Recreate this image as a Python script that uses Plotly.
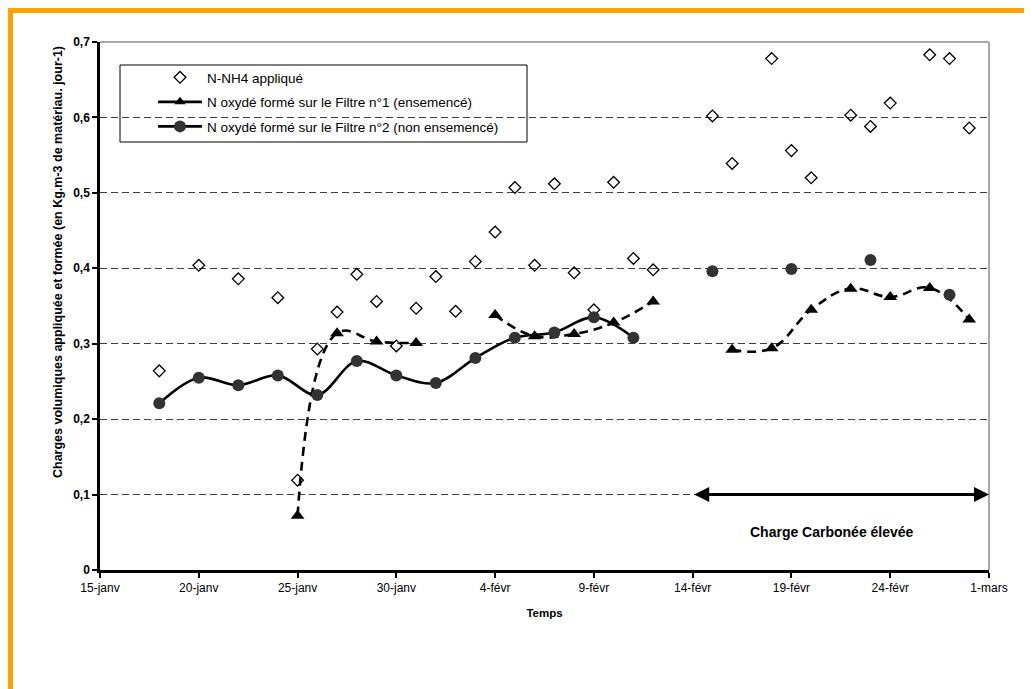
import plotly.graph_objects as go

YEAR = "2007"

# --- Data -------------------------------------------------------------
nh4_dates = ["01-18", "01-20", "01-22", "01-24", "01-25", "01-26", "01-27", "01-28",
             "01-29", "01-30", "01-31", "02-01", "02-02", "02-03", "02-04", "02-05",
             "02-06", "02-07", "02-08", "02-09", "02-10", "02-11", "02-12", "02-15",
             "02-16", "02-18", "02-19", "02-20", "02-22", "02-23", "02-24", "02-26",
             "02-27", "02-28"]
nh4_values = [0.264, 0.404, 0.386, 0.361, 0.119, 0.293, 0.342, 0.392,
              0.356, 0.297, 0.347, 0.389, 0.343, 0.409, 0.448, 0.507,
              0.404, 0.512, 0.394, 0.345, 0.514, 0.413, 0.398, 0.602,
              0.539, 0.678, 0.556, 0.520, 0.603, 0.588, 0.619, 0.683,
              0.678, 0.586]

f1_dates = ["01-25", "01-27", "01-29", "01-31", "02-02", "02-04", "02-06", "02-08",
            "02-10", "02-12", "02-14", "02-16", "02-18", "02-20", "02-22", "02-24",
            "02-26", "02-28"]
f1_values = [0.072, 0.314, 0.303, 0.301, None, 0.338, 0.310, 0.313,
             0.328, 0.356, None, 0.292, 0.294, 0.345, 0.373, 0.362,
             0.374, 0.332]

f2_dates = ["01-18", "01-20", "01-22", "01-24", "01-26", "01-28", "01-30", "02-01",
            "02-03", "02-05", "02-07", "02-09", "02-11", "02-13", "02-15", "02-17",
            "02-19", "02-21", "02-23", "02-25", "02-27"]
f2_values = [0.221, 0.255, 0.245, 0.258, 0.232, 0.277, 0.258, 0.248,
             0.281, 0.308, 0.315, 0.335, 0.308, None, 0.396, None,
             0.399, None, 0.411, None, 0.365]

x_tick_dates = ["01-15", "01-20", "01-25", "01-30", "02-04", "02-09", "02-14",
                "02-19", "02-24", "03-01"]
x_tick_labels = ["15-janv", "20-janv", "25-janv", "30-janv", "4-févr", "9-févr",
                 "14-févr", "19-févr", "24-févr", "1-mars"]
y_tick_vals = [0, 0.1, 0.2, 0.3, 0.4, 0.5, 0.6, 0.7]
y_tick_labels = ["0", "0,1", "0,2", "0,3", "0,4", "0,5", "0,6", "0,7"]

name_nh4 = "N-NH4 appliqué"
name_f1 = "N oxydé formé sur le Filtre n°1 (ensemencé)"
name_f2 = "N oxydé formé sur le Filtre n°2 (non ensemencé)"

y_title = "Charges volumiques appliquée et formée (en Kg.m-3 de matériau. jour-1)"
x_title = "Temps"

arrow_start, arrow_end, arrow_level = "02-14", "03-01", 0.1
annotation_text = "Charge Carbonée élevée"


def d(md):
    return f"{YEAR}-{md}"


FONT = "Arial, 'Liberation Sans', sans-serif"

ML, MR, MT, MB = 92, 51, 34, 127
W, H = 1032 - ML - MR, 689 - MT - MB


def px(xs):  # screen x -> paper x (page has 8px body margin)
    return (xs - 8 - ML) / W


def py(ys):  # screen y -> paper y
    return (689 - MB - (ys - 8)) / H


fig = go.Figure()

fig.add_trace(go.Scatter(
    x=[d(v) for v in nh4_dates], y=nh4_values, mode="markers", name=name_nh4,
    legendgroup="a",
    marker=dict(symbol="diamond-open", size=9, color="black", line=dict(width=1.3)),
))

# Filtre 1: dashed in plot, solid in legend
fig.add_trace(go.Scatter(
    x=[d(v) for v in f1_dates], y=f1_values, mode="lines+markers", name=name_f1,
    showlegend=False, connectgaps=False,
    line=dict(color="black", width=2.6, dash="9px,6px", shape="spline", smoothing=1.2),
    marker=dict(symbol="triangle-up", size=12, color="black"),
))
fig.add_trace(go.Scatter(
    x=[None], y=[None], mode="lines+markers", name=name_f1, legendgroup="b",
    line=dict(color="black", width=2.6),
    marker=dict(symbol="triangle-up", size=10, color="black"),
))

fig.add_trace(go.Scatter(
    x=[d(v) for v in f2_dates], y=f2_values, mode="lines+markers", name=name_f2,
    legendgroup="c", connectgaps=False,
    line=dict(color="black", width=2.6, shape="spline", smoothing=1.0),
    marker=dict(symbol="circle", size=12, color="#333333"),
))

# Double-headed arrow and label
fig.add_annotation(
    x=d(arrow_end), y=arrow_level, ax=d(arrow_start), ay=arrow_level,
    xref="x", yref="y", axref="x", ayref="y", text="",
    showarrow=True, arrowhead=2, arrowside="end+start", arrowsize=1.0,
    arrowwidth=3, arrowcolor="black",
)
fig.add_annotation(
    x=px(832), y=py(532), xref="paper", yref="paper", showarrow=False,
    xanchor="center", yanchor="middle",
    text=f"<b>{annotation_text}</b>", font=dict(family=FONT, size=14, color="black"),
)

# Y axis title as rotated annotation
fig.add_annotation(
    x=px(58), y=py(262), xref="paper", yref="paper", showarrow=False,
    xanchor="center", yanchor="middle", textangle=-90,
    text=f"<b>{y_title}</b>", font=dict(family=FONT, size=12.5, color="black"),
)

# Plot area top/right border (gray)
fig.add_shape(type="line", xref="paper", yref="paper", x0=0, x1=1, y0=1, y1=1,
              line=dict(color="#8c8c8c", width=1.5))
fig.add_shape(type="line", xref="paper", yref="paper", x0=1, x1=1, y0=0, y1=1,
              line=dict(color="#8c8c8c", width=1.5))

# Legend box
fig.add_shape(type="rect", xref="paper", yref="paper",
              x0=px(120), x1=px(527), y0=py(142), y1=py(65),
              line=dict(color="black", width=1), fillcolor="white", layer="below")

fig.update_layout(
    width=1032, height=689,
    margin=dict(l=ML, r=MR, t=MT, b=MB),
    paper_bgcolor="white", plot_bgcolor="rgba(0,0,0,0)",
    font=dict(family=FONT, size=11, color="black"),
    showlegend=True,
    legend=dict(
        x=px(153), y=py(65) + 3 / H, xanchor="left", yanchor="top",
        borderwidth=0, bgcolor="rgba(0,0,0,0)",
        font=dict(family=FONT, size=13.5, color="black"),
        tracegroupgap=4, itemwidth=44,
    ),
    xaxis=dict(
        type="date", range=[d("01-15"), d("03-01")],
        tickvals=[d(v) for v in x_tick_dates], ticktext=x_tick_labels,
        showgrid=False, zeroline=False,
        showline=True, linecolor="black", linewidth=2.5,
        ticks="outside", ticklen=5, tickwidth=2, tickcolor="black",
        tickfont=dict(family=FONT, size=12),
        title=dict(text=f"<b>{x_title}</b>", font=dict(family=FONT, size=11.5), standoff=15),
    ),
    yaxis=dict(
        range=[0, 0.7], tickvals=y_tick_vals, ticktext=y_tick_labels,
        showgrid=True, gridcolor="#404040", gridwidth=1, griddash="7px,4px",
        zeroline=False,
        showline=True, linecolor="black", linewidth=2.5,
        ticks="outside", ticklen=5, tickwidth=2, tickcolor="black",
        tickfont=dict(family=FONT, size=12, weight="bold"),
    ),
)

# Orange frame bands (top and left)
fig.add_shape(type="rect", xref="paper", yref="paper",
              x0=px(7), x1=px(1050), y0=py(13), y1=py(7),
              line=dict(width=0), fillcolor="#FFA000", layer="above")
fig.add_shape(type="rect", xref="paper", yref="paper",
              x0=px(7), x1=px(13), y0=py(700), y1=py(7),
              line=dict(width=0), fillcolor="#FFA000", layer="above")

fig.write_html("out.html")
